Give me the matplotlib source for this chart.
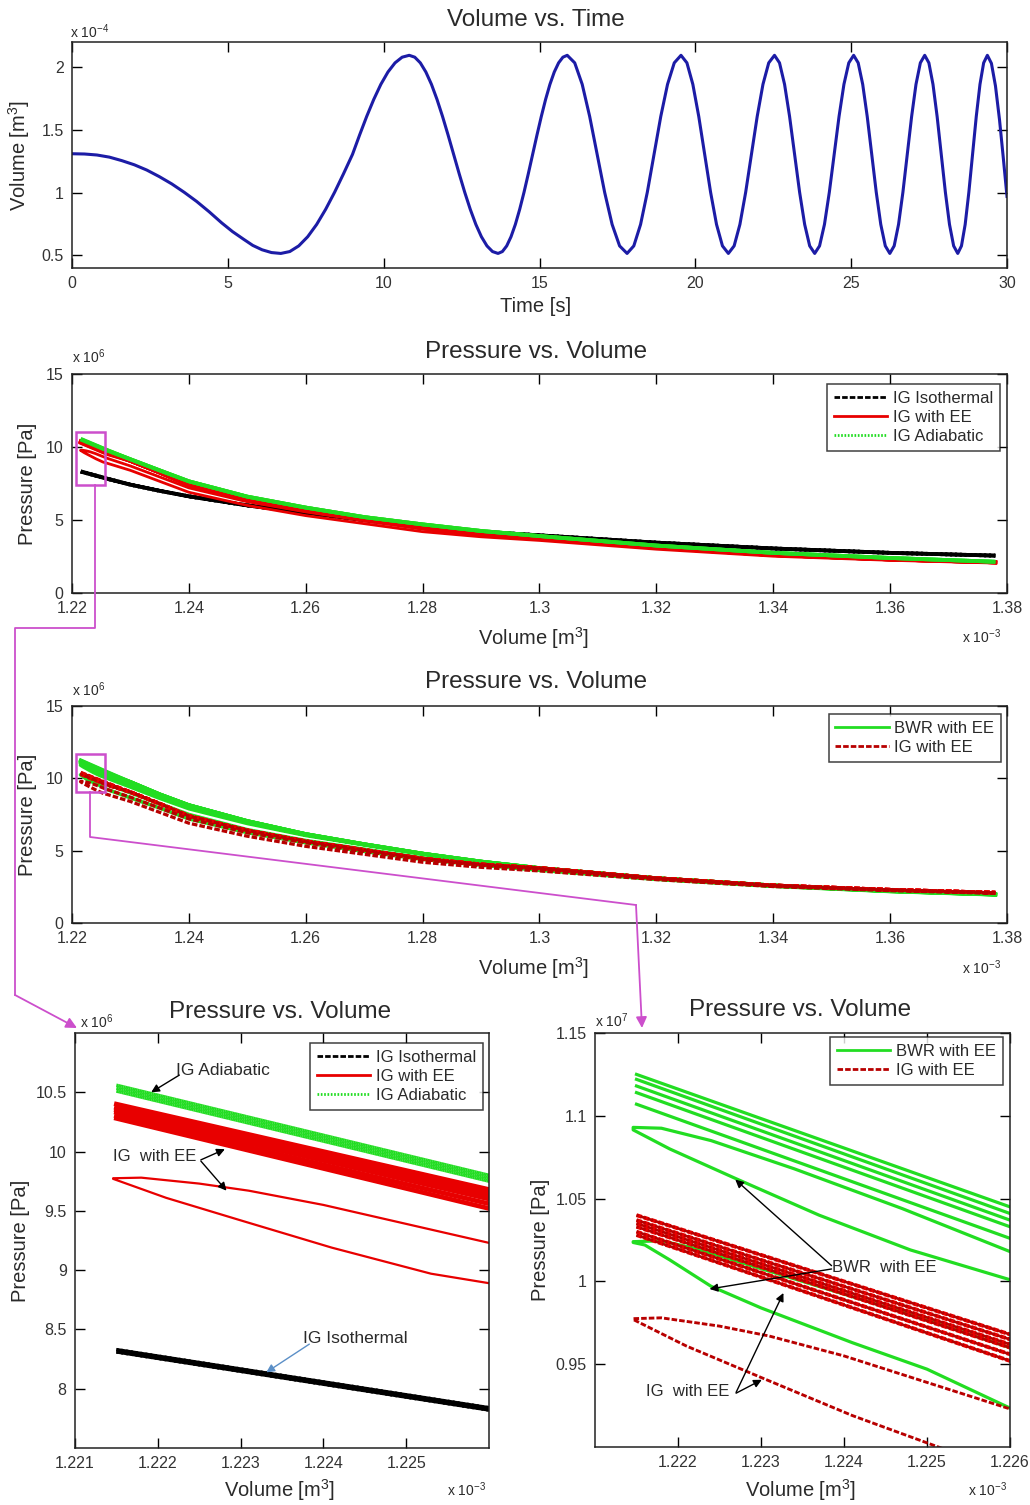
import matplotlib
matplotlib.use('Agg')
import matplotlib.pyplot as plt
from matplotlib.lines import Line2D
from matplotlib.patches import Rectangle, FancyArrowPatch
import numpy as np

plt.rcParams['font.family'] = ['Liberation Sans', 'DejaVu Sans']
plt.rcParams['mathtext.fontset'] = 'custom'
plt.rcParams['mathtext.rm'] = 'Liberation Sans'
plt.rcParams['mathtext.default'] = 'regular'
plt.rcParams['lines.scale_dashes'] = False
plt.rcParams['lines.solid_joinstyle'] = 'round'

# ---------------- Volume vs. Time (volume in 1e-4 m^3) ----------------
UP16 = [0.531, 0.576, 0.649, 0.747, 0.867, 1.003, 1.151, 1.305, 1.459, 1.607, 1.743, 1.863, 1.961, 2.034, 2.079, 2.094]
DN16 = [2.079, 2.034, 1.961, 1.863, 1.743, 1.607, 1.459, 1.305, 1.151, 1.003, 0.867, 0.747, 0.649, 0.576, 0.531, 0.516]
UP = [0.576, 0.747, 1.003, 1.305, 1.607, 1.863, 2.034, 2.094]
DN = [2.034, 1.863, 1.607, 1.305, 1.003, 0.747, 0.576, 0.516]

time_s = [0, 0.4, 0.8, 1.2, 1.6, 2.0, 2.4, 2.8, 3.2, 3.6, 4.0, 4.4, 4.8, 5.15, 5.5, 5.8, 6.1, 6.4, 6.7,
          6.9875, 7.275, 7.5625, 7.85, 8.1375, 8.425, 8.7125, 9.0, 9.2275, 9.455, 9.6825, 9.91,
          10.1375, 10.365, 10.5925, 10.82,
          10.998, 11.176, 11.354, 11.533, 11.711, 11.889, 12.067, 12.245, 12.423, 12.601, 12.779,
          12.958, 13.136, 13.314, 13.492, 13.67,
          13.809, 13.948, 14.086, 14.225, 14.364, 14.503, 14.641, 14.78, 14.919, 15.058, 15.196,
          15.335, 15.474, 15.613, 15.751, 15.89,
          16.13, 16.37, 16.61, 16.85, 17.09, 17.33, 17.57, 17.81,
          18.026, 18.243, 18.459, 18.675, 18.891, 19.108, 19.324, 19.54,
          19.73, 19.92, 20.11, 20.30, 20.49, 20.68, 20.87, 21.06,
          21.245, 21.43, 21.615, 21.80, 21.985, 22.17, 22.355, 22.54,
          22.701, 22.863, 23.024, 23.185, 23.346, 23.508, 23.669, 23.83,
          23.986, 24.143, 24.299, 24.455, 24.611, 24.768, 24.924, 25.08,
          25.225, 25.37, 25.515, 25.66, 25.805, 25.95, 26.095, 26.24,
          26.38, 26.52, 26.66, 26.80, 26.94, 27.08, 27.22, 27.36,
          27.493, 27.625, 27.758, 27.89, 28.023, 28.155, 28.288, 28.42,
          28.539, 28.658, 28.776, 28.895, 29.014, 29.133, 29.251, 29.37,
          29.50, 29.63, 29.76, 29.88, 30.0]
volume_e4 = ([1.31, 1.308, 1.30, 1.283, 1.255, 1.222, 1.18, 1.128, 1.07, 1.003, 0.93, 0.848,
              0.76, 0.69, 0.63, 0.58, 0.545, 0.523, 0.516]
             + UP16 + DN16 + UP16
             + DN + UP + DN + UP + DN + UP + DN + UP + DN + UP
             + [2.03, 1.85, 1.58, 1.28, 0.97])

# ---------------- Pressure vs. Volume (V in 1e-3 m^3, P in 1e6 Pa) ----------------
V_EDGE = [1.2215, 1.226]
V_TAIL = [1.23, 1.235, 1.24, 1.25, 1.26, 1.27, 1.28, 1.29, 1.30, 1.32, 1.34, 1.36, 1.378]

# IG isothermal
iso_heads = [[8.33, 7.84], [8.31, 7.82]]
iso_tail = [7.42, 7.0, 6.62, 6.0, 5.5, 5.0, 4.5, 4.2, 3.95, 3.45, 3.05, 2.75, 2.56]
# IG adiabatic
adia_heads = [[10.56, 9.80], [10.535, 9.775], [10.51, 9.75]]
adia_tail = [9.16, 8.4, 7.65, 6.6, 5.85, 5.2, 4.7, 4.25, 3.9, 3.25, 2.75, 2.4, 2.14]
# IG with energy equation
ee_heads = [[10.40, 9.68], [10.37, 9.65], [10.35, 9.62], [10.33, 9.60], [10.30, 9.56], [10.28, 9.52]]
ee_tail = [9.05, 8.25, 7.4, 6.4, 5.65, 5.05, 4.45, 4.05, 3.8, 3.1, 2.6, 2.3, 2.1]
ee_up_v = [1.22146, 1.2218, 1.2225, 1.2231, 1.2240, 1.2250, 1.2260]
ee_up_p = [9.775, 9.78, 9.73, 9.67, 9.55, 9.39, 9.23]
ee_up_tail = [8.7, 7.95, 7.2, 6.25, 5.55, 4.95, 4.4, 4.0, 3.75, 3.08, 2.58, 2.28, 2.08]
ee_lo_v = [1.22146, 1.2221, 1.2230, 1.2241, 1.2253, 1.2260]
ee_lo_p = [9.77, 9.61, 9.42, 9.19, 8.97, 8.89]
ee_lo_tail = [8.4, 7.65, 6.9, 6.0, 5.3, 4.75, 4.2, 3.85, 3.6, 3.0, 2.52, 2.24, 2.05]
# BWR with energy equation
bwr_heads = [[11.25, 10.45], [11.22, 10.41], [11.18, 10.37], [11.14, 10.33], [11.07, 10.26]]
bwr_tail = [9.75, 8.9, 8.15, 7.05, 6.15, 5.45, 4.8, 4.25, 3.8, 3.1, 2.6, 2.22, 1.98]
bwrA_up_v = [1.22146, 1.2218, 1.2224, 1.2234, 1.2247, 1.2260]
bwrA_up_p = [10.93, 10.925, 10.85, 10.68, 10.44, 10.18]
bwrA_up_tail = [9.55, 8.75, 8.0, 6.95, 6.1, 5.42, 4.78, 4.23, 3.78, 3.09, 2.59, 2.21, 1.97]
bwrA_lo_v = [1.22146, 1.2219, 1.2227, 1.2237, 1.2248, 1.2260]
bwrA_lo_p = [10.915, 10.80, 10.62, 10.40, 10.19, 10.01]
bwrA_lo_tail = [9.4, 8.62, 7.9, 6.88, 6.05, 5.4, 4.76, 4.22, 3.77, 3.08, 2.58, 2.2, 1.96]
bwrB_up_v = [1.22146, 1.2218, 1.2222, 1.2235, 1.2248, 1.2260]
bwrB_up_p = [10.24, 10.245, 10.2, 10.0, 9.8, 9.6]
bwrB_up_tail = [9.0, 8.25, 7.5, 6.45, 5.7, 5.1, 4.5, 4.05, 3.7, 3.05, 2.56, 2.19, 1.96]
bwrB_lo_v = [1.22146, 1.2216, 1.2219, 1.2224, 1.2230, 1.2241, 1.2250, 1.2260]
bwrB_lo_p = [10.235, 10.22, 10.13, 9.97, 9.84, 9.63, 9.47, 9.235]
bwrB_lo_tail = [8.65, 7.95, 7.2, 6.25, 5.55, 4.95, 4.4, 4.0, 3.65, 3.02, 2.54, 2.18, 1.95]

# ---------------- styling ----------------
W, H = 1030, 1505
C_BLUE = '#1c1ca6'
C_GREEN = '#22dd22'
C_RED = '#e80000'
C_DRED = '#b80000'
C_MAG = '#cc4fcc'
TXT = '#2a2a2a'


def stroke(v_head, p_head, p_tail):
    return np.array(list(v_head) + V_TAIL), np.array(list(p_head) + list(p_tail))


def loop(v_lo, p_lo, t_lo, v_up, p_up, t_up):
    lv, lp = stroke(v_lo, p_lo, t_lo)
    uv, up = stroke(v_up, p_up, t_up)
    return np.concatenate([lv[::-1], uv]), np.concatenate([lp[::-1], up])


def rect(l, t, r, b):
    return [l / W, 1 - b / H, (r - l) / W, (b - t) / H]


def style(ax):
    ax.tick_params(direction='in', top=True, right=True, length=7, width=1,
                   labelsize=11.5, labelcolor='#333333', pad=6)
    for s in ax.spines.values():
        s.set_linewidth(1.1)
        s.set_color('#222222')


def fx(x):
    return x / W


def fy(y):
    return 1 - y / H


fig = plt.figure(figsize=(10.3, 15.05), dpi=100)
ax1 = fig.add_axes(rect(72, 42, 1007, 268))
ax2 = fig.add_axes(rect(72, 374, 1007, 593))
ax3 = fig.add_axes(rect(72, 706, 1007, 923))
ax4 = fig.add_axes(rect(75, 1033, 489, 1448))
ax5 = fig.add_axes(rect(595, 1033, 1010, 1447))

# ---- panel 1
ax1.plot(time_s, volume_e4, color=C_BLUE, lw=2.2)
ax1.set_xlim(0, 30)
ax1.set_ylim(0.4, 2.2)
ax1.set_xticks([0, 5, 10, 15, 20, 25, 30])
ax1.set_yticks([0.5, 1, 1.5, 2])
ax1.set_yticklabels(['0.5', '1', '1.5', '2'])
style(ax1)
ax1.text(0.496, 1.097, 'Volume vs. Time', transform=ax1.transAxes, ha='center', va='center',
         fontsize=17.5, color=TXT)
ax1.set_xlabel('Time [s]', fontsize=14.5, color=TXT)
ax1.xaxis.set_label_coords(0.496, -0.13)
ax1.set_ylabel('Volume [m$^3$]', fontsize=14.5, color=TXT)
ax1.yaxis.set_label_coords(-0.043, 0.5)
fig.text(fx(70), fy(32), 'x 10$^{-4}$', fontsize=10, color=TXT, va='center')


def draw_ig(ax, lw, lw_band, lw_loop, scale=1.0):
    for h in iso_heads:
        v, p = stroke(V_EDGE, h, iso_tail)
        ax.plot(v, p / scale, color='k', lw=lw, ls=(0, (5, 2)))
        ax.plot(v, p / scale, color='k', lw=lw, ls=(3.5, (5, 2)))
    for h in ee_heads:
        v, p = stroke(V_EDGE, h, ee_tail)
        ax.plot(v, p / scale, color=C_RED, lw=lw_band)
    v, p = loop(ee_lo_v, ee_lo_p, ee_lo_tail, ee_up_v, ee_up_p, ee_up_tail)
    ax.plot(v, p / scale, color=C_RED, lw=lw_loop)
    for h in adia_heads:
        v, p = stroke(V_EDGE, h, adia_tail)
        ax.plot(v, p / scale, color=C_GREEN, lw=lw, ls=(0, (1.4, 1.2)))
        ax.plot(v, p / scale, color=C_GREEN, lw=lw, ls=(1.3, (1.4, 1.2)))


def draw_bwr(ax, lw, lw_red, scale=1.0):
    for h in bwr_heads:
        v, p = stroke(V_EDGE, h, bwr_tail)
        ax.plot(v, p / scale, color=C_GREEN, lw=lw)
    for args in [(bwrA_lo_v, bwrA_lo_p, bwrA_lo_tail, bwrA_up_v, bwrA_up_p, bwrA_up_tail),
                 (bwrB_lo_v, bwrB_lo_p, bwrB_lo_tail, bwrB_up_v, bwrB_up_p, bwrB_up_tail)]:
        v, p = loop(*args)
        ax.plot(v, p / scale, color=C_GREEN, lw=lw)
    for h in ee_heads:
        v, p = stroke(V_EDGE, h, ee_tail)
        ax.plot(v, p / scale, color=C_RED, lw=lw_red, ls=(0, (4, 1.5)))
        ax.plot(v, p / scale, color=C_DRED, lw=lw_red * 0.7, ls=(2.5, (4, 1.5)))
    v, p = loop(ee_lo_v, ee_lo_p, ee_lo_tail, ee_up_v, ee_up_p, ee_up_tail)
    ax.plot(v, p / scale, color=C_DRED, lw=lw * 0.9, ls=(0, (4, 1.5)))


ig_handles = [Line2D([], [], color='k', lw=2, ls=(0, (4, 1.5))),
              Line2D([], [], color=C_RED, lw=2),
              Line2D([], [], color=C_GREEN, lw=2, ls=(0, (1.2, 1.2)))]
ig_labels = ['IG Isothermal', 'IG with EE', 'IG Adiabatic']
bwr_handles = [Line2D([], [], color=C_GREEN, lw=2),
               Line2D([], [], color=C_DRED, lw=2, ls=(0, (4, 1.5)))]
bwr_labels = ['BWR with EE', 'IG with EE']


def legend(ax, handles, labels, anchor):
    lg = ax.legend(handles, labels, loc='upper right', bbox_to_anchor=anchor, fontsize=12,
                   frameon=True, fancybox=False, shadow=False, edgecolor='#111111',
                   handlelength=3.2, handletextpad=0.35, labelspacing=0.25,
                   borderpad=0.4, borderaxespad=0)
    lg.get_frame().set_linewidth(1.1)
    for t in lg.get_texts():
        t.set_color(TXT)
    return lg


def big_pv(ax, title_y, xlab_y):
    ax.set_xlim(1.22, 1.38)
    ax.set_ylim(0, 15)
    ax.set_xticks([1.22, 1.24, 1.26, 1.28, 1.30, 1.32, 1.34, 1.36, 1.38])
    ax.set_xticklabels(['1.22', '1.24', '1.26', '1.28', '1.3', '1.32', '1.34', '1.36', '1.38'])
    ax.set_yticks([0, 5, 10, 15])
    ax.set_yticklabels(['0', '5', '10', '15'])
    style(ax)
    ax.text(0.496, title_y, 'Pressure vs. Volume', transform=ax.transAxes, ha='center',
            va='center', fontsize=17.5, color=TXT)
    ax.set_xlabel('Volume [m$^3$]', fontsize=14.5, color=TXT)
    ax.xaxis.set_label_coords(0.494, xlab_y)
    ax.set_ylabel('Pressure [Pa]', fontsize=14.5, color=TXT)
    ax.yaxis.set_label_coords(-0.037, 0.5)


# ---- panel 2
draw_ig(ax2, 2.7, 2.7, 2.0)
big_pv(ax2, 1.10, -0.145)
legend(ax2, ig_handles, ig_labels, (0.9925, 0.954))
ax2.add_patch(Rectangle((1.2207, 7.4), 0.005, 3.65, fill=False, edgecolor=C_MAG, lw=1.8, zorder=10))
fig.text(fx(72), fy(357), 'x 10$^{6}$', fontsize=10, color=TXT, va='center')
fig.text(fx(962), fy(637), 'x 10$^{-3}$', fontsize=10, color=TXT, va='center')

# ---- panel 3
draw_bwr(ax3, 2.6, 2.6)
big_pv(ax3, 1.11, -0.15)
legend(ax3, bwr_handles, bwr_labels, (0.9936, 0.963))
ax3.add_patch(Rectangle((1.2206, 9.05), 0.0051, 2.6, fill=False, edgecolor=C_MAG, lw=1.8, zorder=10))
fig.text(fx(72), fy(690), 'x 10$^{6}$', fontsize=10, color=TXT, va='center')
fig.text(fx(962), fy(968), 'x 10$^{-3}$', fontsize=10, color=TXT, va='center')

# ---- panel 4 (zoom of IG)
draw_ig(ax4, 2.4, 3.4, 1.6)
ax4.set_xlim(1.221, 1.226)
ax4.set_ylim(7.5, 11.0)
ax4.set_xticks([1.221, 1.222, 1.223, 1.224, 1.225])
ax4.set_xticklabels(['1.221', '1.222', '1.223', '1.224', '1.225'])
ax4.set_yticks([8, 8.5, 9, 9.5, 10, 10.5])
ax4.set_yticklabels(['8', '8.5', '9', '9.5', '10', '10.5'])
style(ax4)
ax4.text(0.495, 1.05, 'Pressure vs. Volume', transform=ax4.transAxes, ha='center',
         va='center', fontsize=17.5, color=TXT)
ax4.set_xlabel('Volume [m$^3$]', fontsize=14.5, color=TXT)
ax4.xaxis.set_label_coords(0.495, -0.07)
ax4.set_ylabel('Pressure [Pa]', fontsize=14.5, color=TXT)
ax4.yaxis.set_label_coords(-0.109, 0.5)
legend(ax4, ig_handles, ig_labels, (0.9855, 0.976))
fig.text(fx(80), fy(1022), 'x 10$^{6}$', fontsize=10, color=TXT, va='center')
fig.text(fx(447), fy(1490), 'x 10$^{-3}$', fontsize=10, color=TXT, va='center')

arr = dict(arrowstyle='-|>', color='k', lw=1.0, mutation_scale=12, shrinkA=0, shrinkB=0)
ax4.text(1.22222, 10.68, 'IG Adiabatic', fontsize=12.5, color=TXT, va='center')
ax4.annotate('', xy=(1.22192, 10.50), xytext=(1.22226, 10.645), arrowprops=arr)
ax4.text(1.22146, 9.955, 'IG  with EE', fontsize=12, color=TXT, va='center')
ax4.annotate('', xy=(1.22281, 10.02), xytext=(1.22252, 9.93), arrowprops=arr)
ax4.annotate('', xy=(1.22283, 9.67), xytext=(1.22252, 9.92), arrowprops=arr)
ax4.text(1.22375, 8.42, 'IG Isothermal', fontsize=12.5, color=TXT, va='center')
ax4.annotate('', xy=(1.22331, 8.138), xytext=(1.22383, 8.376),
             arrowprops=dict(arr, color='#5b8fc7'))

# ---- panel 5 (zoom of BWR vs IG), P in 1e7 Pa
draw_bwr(ax5, 2.3, 2.8, scale=10.0)
ax5.set_xlim(1.221, 1.226)
ax5.set_ylim(0.90, 1.15)
ax5.set_xticks([1.222, 1.223, 1.224, 1.225, 1.226])
ax5.set_xticklabels(['1.222', '1.223', '1.224', '1.225', '1.226'])
ax5.set_yticks([0.95, 1.0, 1.05, 1.10, 1.15])
ax5.set_yticklabels(['0.95', '1', '1.05', '1.1', '1.15'])
style(ax5)
ax5.text(0.494, 1.056, 'Pressure vs. Volume', transform=ax5.transAxes, ha='center',
         va='center', fontsize=17.5, color=TXT)
ax5.set_xlabel('Volume [m$^3$]', fontsize=14.5, color=TXT)
ax5.xaxis.set_label_coords(0.494, -0.072)
ax5.set_ylabel('Pressure [Pa]', fontsize=14.5, color=TXT)
ax5.yaxis.set_label_coords(-0.108, 0.5)
legend(ax5, bwr_handles, bwr_labels, (0.983, 0.99))
fig.text(fx(595), fy(1021), 'x 10$^{7}$', fontsize=10, color=TXT, va='center')
fig.text(fx(968), fy(1490), 'x 10$^{-3}$', fontsize=10, color=TXT, va='center')

ax5.text(1.22385, 1.0081, 'BWR  with EE', fontsize=12, color=TXT, va='center')
ax5.annotate('', xy=(1.22269, 1.0615), xytext=(1.22385, 1.0095), arrowprops=arr)
ax5.annotate('', xy=(1.22238, 0.9954), xytext=(1.22385, 1.0075), arrowprops=arr)
ax5.text(1.22162, 0.9336, 'IG  with EE', fontsize=12, color=TXT, va='center')
ax5.annotate('', xy=(1.22327, 0.993), xytext=(1.2227, 0.933), arrowprops=arr)
ax5.annotate('', xy=(1.22301, 0.9406), xytext=(1.2227, 0.9325), arrowprops=arr)

# ---- magenta zoom connectors (figure pixel positions)
pathA = [(95, 485), (95, 628), (15, 628), (15, 995)]
fig.add_artist(Line2D([fx(x) for x, _ in pathA], [fy(y) for _, y in pathA],
                      color=C_MAG, lw=1.3, transform=fig.transFigure, zorder=20))
fig.add_artist(FancyArrowPatch((fx(15), fy(995)), (fx(77), fy(1028)), transform=fig.transFigure,
                               arrowstyle='-|>', mutation_scale=16, color=C_MAG, lw=1.3,
                               shrinkA=0, shrinkB=0, zorder=20))
pathB = [(90, 792), (90, 837), (636, 905)]
fig.add_artist(Line2D([fx(x) for x, _ in pathB], [fy(y) for _, y in pathB],
                      color=C_MAG, lw=1.3, transform=fig.transFigure, zorder=20))
fig.add_artist(FancyArrowPatch((fx(636), fy(905)), (fx(642), fy(1028)), transform=fig.transFigure,
                               arrowstyle='-|>', mutation_scale=16, color=C_MAG, lw=1.3,
                               shrinkA=0, shrinkB=0, zorder=20))

fig.savefig('out.png', dpi=100, facecolor='white')
